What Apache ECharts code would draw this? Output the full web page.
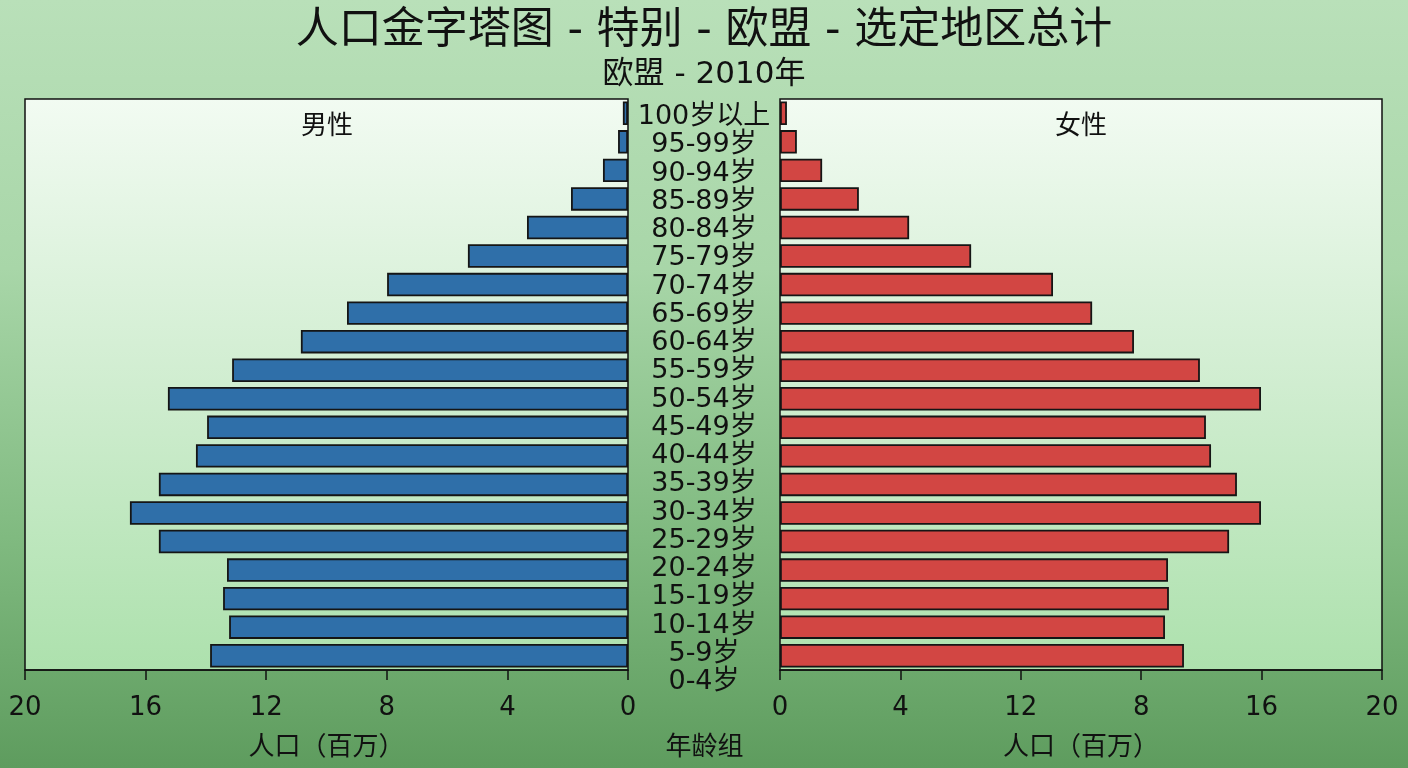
<!DOCTYPE html>
<html lang="zh">
<head>
    <meta charset="UTF-8">
    <title>人口金字塔图</title>
    <script src="https://cdn.jsdelivr.net/npm/echarts@6/dist/echarts.min.js"></script>
    <style>
        html, body { margin: 0; padding: 0; }
        #main { width: 1408px; height: 768px; }
    </style>
</head>
<body>
<div id="main"></div>
<script>
    // 年龄组标签（自下而上）
    var ageLabels = ['0-4岁', '5-9岁', '10-14岁', '15-19岁', '20-24岁', '25-29岁', '30-34岁',
        '35-39岁', '40-44岁', '45-49岁', '50-54岁', '55-59岁', '60-64岁', '65-69岁',
        '70-74岁', '75-79岁', '80-84岁', '85-89岁', '90-94岁', '95-99岁', '100岁以上'];
    // 条形对应的组（图中条形从 5-9岁 开始）
    var barLabels = ageLabels.slice(1);
    // 男性人口（百万），自下而上
    var maleValues = [13.86, 13.23, 13.43, 13.30, 15.56, 16.52, 15.56, 14.33, 13.96, 15.26,
        13.13, 10.85, 9.32, 7.99, 5.31, 3.35, 1.89, 0.83, 0.33, 0.17];
    // 女性人口（百万），自下而上
    var femaleValues = [13.42, 12.79, 12.92, 12.89, 14.92, 15.98, 15.18, 14.32, 14.15, 15.98,
        13.95, 11.76, 10.37, 9.07, 6.35, 4.29, 2.62, 1.40, 0.56, 0.23];
    var rightTickLabels = ['0', '4', '12', '8', '16', '20'];

    var FONT = 'DejaVu Sans, Noto Sans CJK SC, sans-serif';
    var CJK = 'Noto Sans CJK SC, sans-serif';
    var TXT = '#111';

    var myChart = echarts.init(document.getElementById('main'));

    var plotBg = new echarts.graphic.LinearGradient(0, 0, 0, 1, [
        {offset: 0, color: '#f2fbf2'},
        {offset: 0.5, color: '#d0edd0'},
        {offset: 1, color: '#ade1ad'}
    ]);

    function valueAxis(grid, inverse, fmt) {
        return {
            gridIndex: grid,
            type: 'value',
            min: 0,
            max: 20,
            interval: 4,
            inverse: inverse,
            splitLine: {show: false},
            axisLine: {show: true, lineStyle: {color: TXT, width: 1.5}},
            axisTick: {show: true, length: 10, lineStyle: {color: TXT, width: 1.5}},
            axisLabel: {color: TXT, fontSize: 26, fontFamily: FONT, margin: 25, formatter: fmt},
            name: '人口（百万）',
            nameLocation: 'middle',
            nameGap: 62,
            nameTextStyle: {color: TXT, fontSize: 26, fontFamily: CJK}
        };
    }

    function catAxis(grid) {
        return {
            gridIndex: grid,
            type: 'category',
            data: barLabels,
            axisLine: {show: false},
            axisTick: {show: false},
            axisLabel: {show: false}
        };
    }

    var option = {
        backgroundColor: new echarts.graphic.LinearGradient(0, 0, 0, 1, [
            {offset: 0, color: '#b9e0b9'},
            {offset: 0.35, color: '#a8d6a8'},
            {offset: 0.7, color: '#80ba80'},
            {offset: 1, color: '#5e9c5e'}
        ]),
        title: [
            {
                text: '人口金字塔图 - 特别 - 欧盟 - 选定地区总计',
                left: 'center',
                top: 5,
                textStyle: {color: TXT, fontSize: 43, fontWeight: 'normal', fontFamily: FONT}
            },
            {
                text: '欧盟 - 2010年',
                left: 'center',
                top: 54,
                textStyle: {color: TXT, fontSize: 31, fontWeight: 'normal', fontFamily: FONT}
            }
        ],
        graphic: [
            {type: 'text', x: 327, y: 124,
                style: {text: '男性', fill: TXT, fontSize: 26, fontFamily: CJK,
                    align: 'center', verticalAlign: 'middle'}},
            {type: 'text', x: 1081, y: 124,
                style: {text: '女性', fill: TXT, fontSize: 26, fontFamily: CJK,
                    align: 'center', verticalAlign: 'middle'}}
        ],
        grid: [
            {left: 25, top: 99, width: 603, height: 571, show: true, backgroundColor: plotBg,
                borderColor: TXT, borderWidth: 1.5, outerBoundsMode: 'none', containLabel: false},
            {left: 780, top: 99, width: 602, height: 571, show: true, backgroundColor: plotBg,
                borderColor: TXT, borderWidth: 1.5, outerBoundsMode: 'none', containLabel: false},
            {left: 704, top: 117, width: 1, height: 565, outerBoundsMode: 'none', containLabel: false}
        ],
        xAxis: [
            valueAxis(0, true),
            valueAxis(1, false, function (v) { return rightTickLabels[Math.round(v / 4)]; }),
            {
                gridIndex: 2,
                type: 'value',
                axisLine: {show: false},
                axisTick: {show: false},
                axisLabel: {show: false},
                splitLine: {show: false},
                name: '年龄组',
                nameLocation: 'middle',
                nameGap: 50,
                nameTextStyle: {color: TXT, fontSize: 26, fontFamily: CJK}
            }
        ],
        yAxis: [
            catAxis(0),
            catAxis(1),
            {
                gridIndex: 2,
                type: 'category',
                data: ageLabels,
                boundaryGap: false,
                axisLine: {show: false},
                axisTick: {show: false},
                axisLabel: {color: TXT, fontSize: 27, fontFamily: FONT, align: 'center', margin: 0,
                    interval: 0}
            }
        ],
        series: [
            {
                name: '男性',
                type: 'bar',
                xAxisIndex: 0,
                yAxisIndex: 0,
                data: maleValues,
                barCategoryGap: '18%',
                itemStyle: {color: '#2f6fa9', borderColor: '#151515', borderWidth: 1.8}
            },
            {
                name: '女性',
                type: 'bar',
                xAxisIndex: 1,
                yAxisIndex: 1,
                data: femaleValues,
                barCategoryGap: '18%',
                itemStyle: {color: '#d24643', borderColor: '#151515', borderWidth: 1.8}
            }
        ]
    };
    myChart.setOption(option);
</script>
</body>
</html>
